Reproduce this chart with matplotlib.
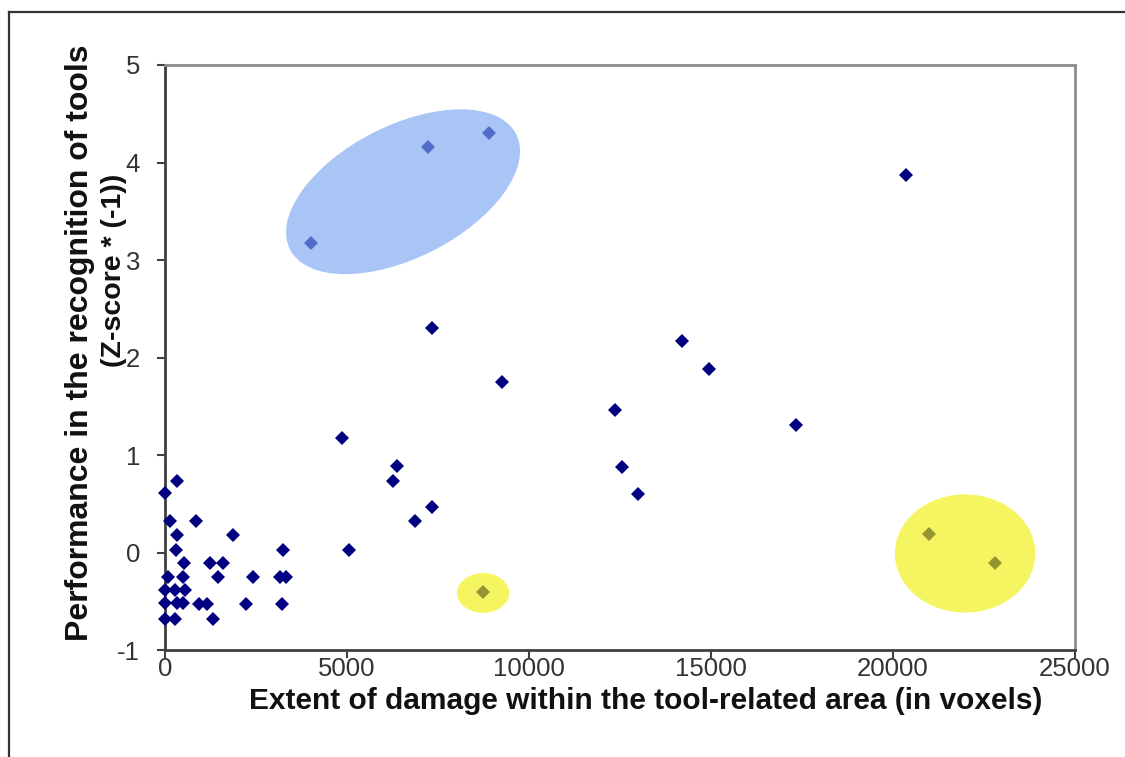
import matplotlib.pyplot as plt
from matplotlib.patches import Ellipse
from matplotlib.lines import Line2D
from matplotlib.transforms import Affine2D

plt.rcParams['font.family'] = ['Liberation Sans', 'DejaVu Sans']
plt.rcParams['axes.unicode_minus'] = False

# Data (voxels, z-score * -1)
damage = [338, 0, 137, 843, 338, 1876, 302, 3250, 5055, 530, 1236, 1602,
          91, 503, 1451, 2412, 3159, 3324, 0, 275, 550, 0, 320, 503, 929,
          1148, 2217, 3223, 0, 275, 1327,
          20357, 7225, 8901, 4011, 7327, 9250, 14203, 14945, 12363, 12563,
          13003, 17335, 4854, 6365, 6272, 7327, 6868, 8745, 20998, 22802]
score = [0.73, 0.61, 0.32, 0.32, 0.18, 0.18, 0.03, 0.03, 0.03, -0.11, -0.11, -0.11,
         -0.25, -0.25, -0.25, -0.25, -0.25, -0.25, -0.38, -0.38, -0.38, -0.52, -0.52,
         -0.52, -0.53, -0.53, -0.53, -0.53, -0.68, -0.68, -0.68,
         3.87, 4.16, 4.30, 3.17, 2.30, 1.75, 2.17, 1.88, 1.46, 0.88,
         0.60, 1.31, 1.17, 0.89, 0.73, 0.47, 0.32, -0.40, 0.19, -0.105]

x_ticks = [0, 5000, 10000, 15000, 20000, 25000]
y_ticks = [-1, 0, 1, 2, 3, 4, 5]

# highlight ellipses: centre in data units, size in axes-height units, angle in deg
highlights = [
    ((6540, 3.70), 0.434, 0.226, 27, '#7CA7F0', 0.66),
    ((21980, -0.01), 0.240, 0.202, 0, '#F0F000', 0.62),
    ((8740, -0.415), 0.089, 0.068, 0, '#F0F000', 0.62),
]

W, H = 1125, 757
fig = plt.figure(figsize=(W / 100, H / 100), dpi=100)
left, right, bottom, top = 165 / W, 1075 / W, 1 - 650 / H, 1 - 65 / H
ax = fig.add_axes([left, bottom, right - left, top - bottom])

ax.plot(damage, score, linestyle='none', marker='D', markersize=7.5,
        color='#000080', markeredgewidth=0, zorder=4, clip_on=False)

ax.set_xlim(0, 25000)
ax.set_ylim(-1, 5)
ax.set_xticks(x_ticks)
ax.set_yticks(y_ticks)
ax.tick_params(direction='out', length=6, width=1.5, color='#404040',
               labelsize=18.5, labelcolor='#333333')
ax.tick_params(axis='y', pad=12)
ax.tick_params(axis='x', pad=-1)

for side in ['left', 'bottom']:
    ax.spines[side].set_color('#404040')
    ax.spines[side].set_linewidth(2)
for side in ['top', 'right']:
    ax.spines[side].set_color('#8c8c8c')
    ax.spines[side].set_linewidth(2)

# ellipses drawn in an isotropic frame (1 unit = axes height)
aspect = (right - left) * W / ((top - bottom) * H)
iso = Affine2D().scale(1 / aspect, 1) + ax.transAxes
for (cx, cy), w, h, ang, col, alpha in highlights:
    u = (cx - 0) / 25000 * aspect
    v = (cy + 1) / 6
    ax.add_patch(Ellipse((u, v), w, h, angle=ang, transform=iso,
                         facecolor=col, edgecolor='none', alpha=alpha, zorder=5))

fig.text(646 / W, 1 - 701 / H,
         'Extent of damage within the tool-related area (in voxels)',
         ha='center', va='center', fontsize=21.5, fontweight='bold', color='#111111')
fig.text(80 / W, 1 - 343 / H, 'Performance in the recognition of tools',
         ha='center', va='center', rotation=90, fontsize=23, fontweight='bold',
         color='#111111')
fig.text(114 / W, 1 - 270 / H, '(Z-score * (-1))',
         ha='center', va='center', rotation=90, fontsize=20.5, fontweight='bold',
         color='#111111')

# outer frame (top and left edges visible)
fig.add_artist(Line2D([9 / W, 1.0], [1 - 12 / H, 1 - 12 / H],
                      transform=fig.transFigure, color='#333333', linewidth=1.6))
fig.add_artist(Line2D([9 / W, 9 / W], [0, 1 - 12 / H],
                      transform=fig.transFigure, color='#333333', linewidth=1.6))

fig.savefig('out.png', dpi=100)
